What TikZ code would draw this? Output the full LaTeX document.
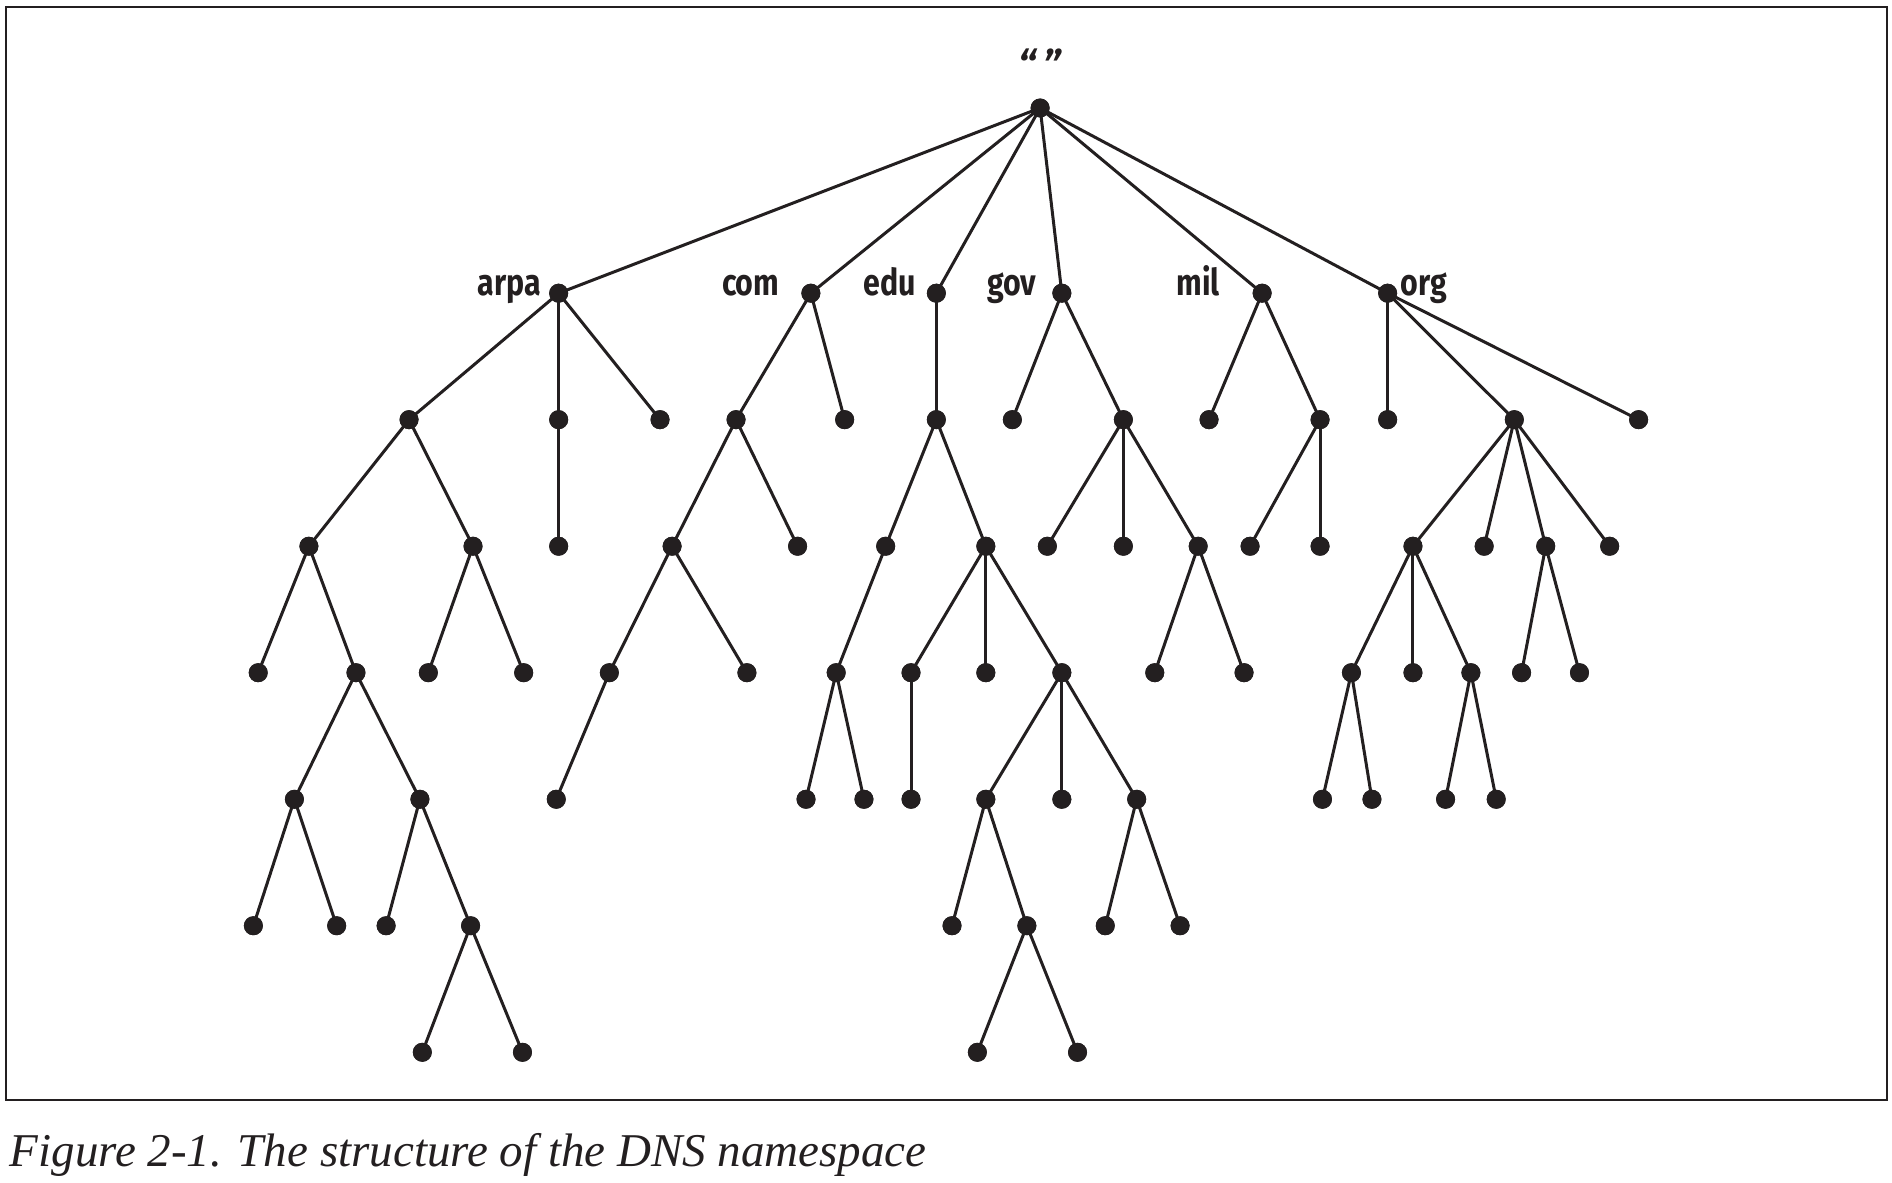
\documentclass[tikz,border=0pt]{standalone}
\usepackage{fontspec}
\newfontfamily\labfont[FakeStretch=0.82]{Fira Sans}
\newfontfamily\quotefont{Fira Sans}
\newfontfamily\capfont{Liberation Serif}
\definecolor{ink}{RGB}{35,31,32}
\begin{document}
\begin{tikzpicture}[x=1.2066pt,y=-1.2066pt,
  dot/.style={circle,fill=ink,draw=none,inner sep=0pt,minimum size=19pt},
  lbl/.style={inner sep=0pt,text=ink,font=\labfont\bfseries\fontsize{37}{37}\selectfont},
  edge/.style={draw=ink,line width=3pt},
  captext/.style={inner sep=0pt,text=ink,font=\capfont\itshape\fontsize{47}{50}\selectfont}]
\useasboundingbox (0,0) rectangle (1568,979.6);
\draw[draw=ink,line width=2.5pt] (5,5.8) rectangle (1563.9,911.6);
% levels
\def\yA{89.5}\def\yB{243}\def\yC{347.8}\def\yD{452.7}\def\yE{557.5}\def\yF{662.4}\def\yG{767.2}\def\yH{872.1}
% root
\node[dot] (r) at (862,\yA) {};
% level 1
\foreach \n/\x in {a/463,c/672,e/776,g/880,m/1046,o/1150}
  \node[dot] (\n) at (\x,\yB) {};
% level 2
\foreach \n/\x in {a1/339,a2/463,a3/547,c1/610,c2/700,e1/776,g1/839,g2/931,m1/1002,m2/1094,o1/1150,o2/1255,o3/1358}
  \node[dot] (\n) at (\x,\yC) {};
% level 3
\foreach \n/\x in {a11/256,a12/392,a21/463,c11/557,c12/661,e11/734,e12/817,g21/868,g22/931,g23/993,m21/1036,m22/1094,o21/1171,o22/1230,o23/1281,o24/1334}
  \node[dot] (\n) at (\x,\yD) {};
% level 4
\foreach \n/\x in {a111/214,a112/295,a121/355,a122/434,c111/505,c112/619,e111/693,e121/755,e122/817,e123/880,g231/957,g232/1031,o211/1120,o212/1171,o213/1219,o231/1261,o232/1309}
  \node[dot] (\n) at (\x,\yE) {};
% level 5
\foreach \n/\x in {a1121/244,a1122/348,c1111/461,e1111/668,e1112/716,e1211/755,e1231/817,e1232/880,e1233/942,o2111/1096,o2112/1137,o2131/1198,o2132/1240}
  \node[dot] (\n) at (\x,\yF) {};
% level 6
\foreach \n/\x in {a11211/210,a11212/279,a11221/320,a11222/390,e12311/789,e12312/851,e12331/916,e12332/978}
  \node[dot] (\n) at (\x,\yG) {};
% level 7
\foreach \n/\x in {a112221/350,a112222/433,e123121/810,e123122/893}
  \node[dot] (\n) at (\x,\yH) {};
% edges
\foreach \p/\c in {r/a,r/c,r/e,r/g,r/m,r/o,
  a/a1,a/a2,a/a3,c/c1,c/c2,e/e1,g/g1,g/g2,m/m1,m/m2,o/o1,o/o2,o/o3,
  a1/a11,a1/a12,a2/a21,c1/c11,c1/c12,e1/e11,e1/e12,g2/g21,g2/g22,g2/g23,m2/m21,m2/m22,o2/o21,o2/o22,o2/o23,o2/o24,
  a11/a111,a11/a112,a12/a121,a12/a122,c11/c111,c11/c112,e11/e111,e12/e121,e12/e122,e12/e123,g23/g231,g23/g232,o21/o211,o21/o212,o21/o213,o23/o231,o23/o232,
  a112/a1121,a112/a1122,c111/c1111,e111/e1111,e111/e1112,e121/e1211,e123/e1231,e123/e1232,e123/e1233,o211/o2111,o211/o2112,o213/o2131,o213/o2132,
  a1121/a11211,a1121/a11212,a1122/a11221,a1122/a11222,e1231/e12311,e1231/e12312,e1233/e12331,e1233/e12332,
  a11222/a112221,a11222/a112222,e12312/e123121,e12312/e123122}
  \draw[edge] (\p.center) -- (\c.center);
% redraw dots on top
\foreach \n in {r,a,c,e,g,m,o,a1,a2,a3,c1,c2,e1,g1,g2,m1,m2,o1,o2,o3,
  a11,a12,a21,c11,c12,e11,e12,g21,g22,g23,m21,m22,o21,o22,o23,o24,
  a111,a112,a121,a122,c111,c112,e111,e121,e122,e123,g231,g232,o211,o212,o213,o231,o232,
  a1121,a1122,c1111,e1111,e1112,e1211,e1231,e1232,e1233,o2111,o2112,o2131,o2132,
  a11211,a11212,a11221,a11222,e12311,e12312,e12331,e12332,
  a112221,a112222,e123121,e123122}
  \fill[ink] (\n.center) circle (9.5pt);
% labels
\node[lbl,anchor=base east] (larpa) at (448.5,245) {arpa};
\node[lbl,anchor=base east] (lcom) at (646,245) {com};
\node[lbl,anchor=base east] (ledu) at (759,245) {edu};
\node[lbl,anchor=base east] (lgov) at (859,245) {gov};
\node[lbl,anchor=base east] (lmil) at (1011.1,245) {mil};
\node[lbl,anchor=base west] (lorg) at (1160.5,245) {org};
\node[inner sep=0pt,text=ink,font=\quotefont\bfseries\itshape\fontsize{40}{40}\selectfont] (lroot) at (862,53) {“\,”};
% caption
\node[captext,anchor=base west] (caption) at (8,966.4) {Figure 2-1. The structure of the DNS namespace};
\end{tikzpicture}
\end{document}
